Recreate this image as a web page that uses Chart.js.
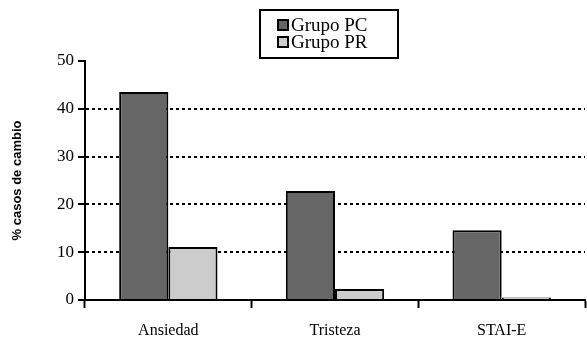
<!DOCTYPE html>
<html>
<head>
<meta charset="utf-8">
<script src="https://cdn.jsdelivr.net/npm/chart.js@4.4.1/dist/chart.umd.min.js"></script>
<style>
  html, body { margin: 0; padding: 0; background: #fff; }
  #cont { width: 587px; height: 342px; }
</style>
</head>
<body>
<div id="cont"><canvas id="g1"></canvas></div>
<script>
// donnees
var categories = ["Ansiedad", "Tristeza", "STAI-E"];
var grupoPC = [43.5, 22.8, 14.6];
var grupoPR = [11.1, 2.3, 0.5];
var ticksY = [0, 10, 20, 30, 40, 50];
var titreY = "% casos de cambio";

// legende encadree, dessinee a la main
var legendeBoite = {
  id: 'legendeBoite',
  afterDraw: function(chart) {
    var ctx = chart.ctx;
    var x = 260, y = 10, w = 138, h = 48;
    ctx.save();
    ctx.lineWidth = 2;
    ctx.strokeStyle = '#000';
    ctx.strokeRect(x, y, w, h);
    ctx.font = '19px "Liberation Serif"';
    ctx.textBaseline = 'middle';
    chart.data.datasets.forEach(function(ds, i) {
      var ly = y + 15 + i * 17;
      ctx.fillStyle = ds.backgroundColor;
      ctx.fillRect(x + 18, ly - 5, 10, 10);
      ctx.lineWidth = 2;
      ctx.strokeRect(x + 18, ly - 5, 10, 10);
      ctx.fillStyle = '#000';
      ctx.fillText(ds.label, x + 31, ly + 1);
    });
    ctx.restore();
  }
};

new Chart(document.getElementById("g1"), {
  type: 'bar',
  data: {
    labels: categories,
    datasets: [{
        data: grupoPC,
        label: "Grupo PC",
        backgroundColor: "#666666",
        borderColor: "#000",
        borderWidth: 2
      }, {
        data: grupoPR,
        label: "Grupo PR",
        backgroundColor: "#cccccc",
        borderColor: "#000",
        borderWidth: 2
      }
    ]
  },
  options: {
    responsive: true,
    maintainAspectRatio: false,
    animation: false,
    layout: { padding: { top: 61, right: 2, left: 0, bottom: 0 } },
    datasets: { bar: { categoryPercentage: 0.59, barPercentage: 1.0 } },
    plugins: {
      legend: { display: false },
      tooltip: { enabled: false }
    },
    scales: {
      x: {
        grid: {
          offset: true,
          drawOnChartArea: false,
          drawTicks: true,
          tickLength: 8,
          tickColor: '#000',
          tickWidth: 2
        },
        border: { color: '#000', width: 2 },
        ticks: {
          color: '#000',
          padding: 13,
          font: { family: 'Liberation Serif', size: 16 }
        },
        afterFit: function(s) { s.height = 42; }
      },
      y: {
        min: 0,
        max: 50,
        afterBuildTicks: function(s) {
          s.ticks = ticksY.map(function(v) { return { value: v }; });
        },
        grid: {
          color: function(c) {
            return (c.tick && (c.tick.value === 0 || c.tick.value === 50)) ? 'rgba(0,0,0,0)' : '#000';
          },
          lineWidth: 2,
          drawTicks: true,
          tickLength: 7,
          tickColor: '#000',
          tickWidth: 2,
          tickBorderDash: []
        },
        border: { color: '#000', width: 2, dash: [3, 3] },
        ticks: {
          color: '#000',
          padding: 4,
          font: { family: 'Liberation Serif', size: 17 }
        },
        title: {
          display: true,
          text: titreY,
          color: '#000',
          font: { family: 'Liberation Sans', size: 13, weight: 'bold' },
          padding: { top: 10, bottom: 0 }
        },
        afterFit: function(s) { s.width = 85; }
      }
    }
  },
  plugins: [legendeBoite]
});
</script>
</body>
</html>
